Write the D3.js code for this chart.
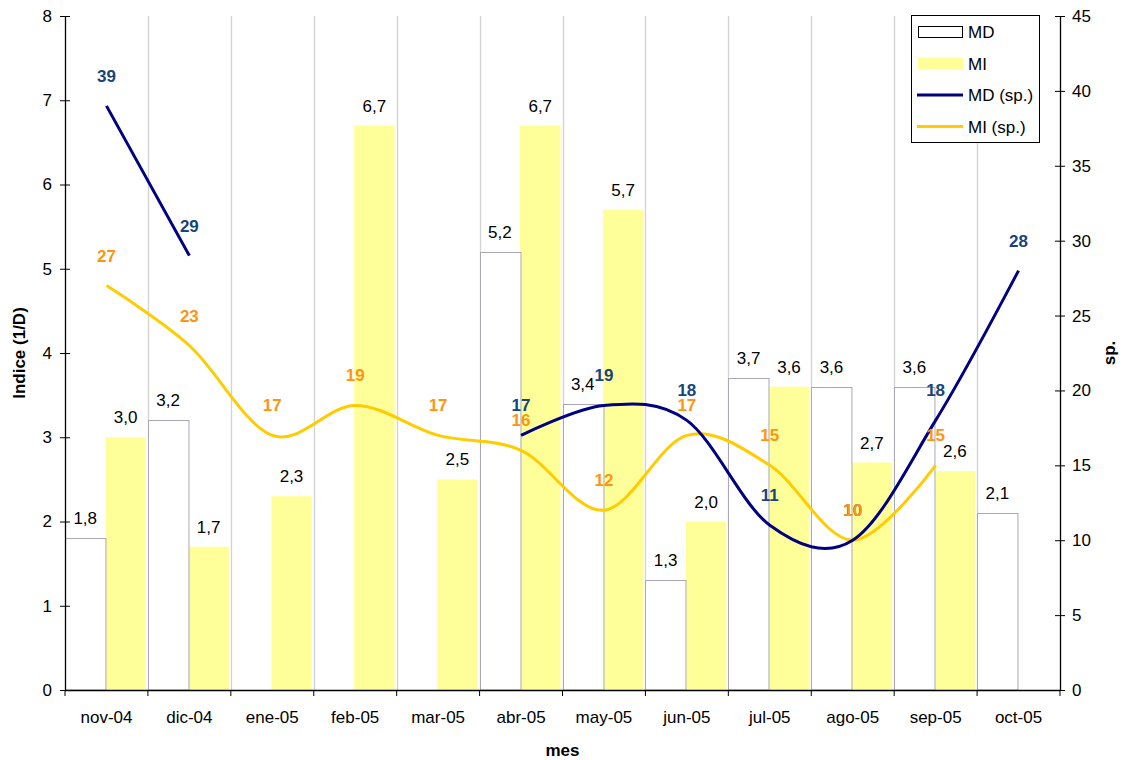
<!DOCTYPE html>
<html>
<head>
<meta charset="utf-8">
<script src="https://cdn.jsdelivr.net/npm/d3@7"></script>
<style>
  html, body { margin: 0; padding: 0; background: #fff; }
  svg { display: block; font-family: "Liberation Sans", Arial, sans-serif; }
</style>
</head>
<body>
<svg id="chart" width="1127" height="760"></svg>
<script>
// Months on the category axis
const months = ["nov-04","dic-04","ene-05","feb-05","mar-05","abr-05","may-05","jun-05","jul-05","ago-05","sep-05","oct-05"];
// Indice (1/D), left axis
const mdIndex = [1.8, 3.2, null, null, null, 5.2, 3.4, 1.3, 3.7, 3.6, 3.6, 2.1];
const miIndex = [3.0, 1.7, 2.3, 6.7, 2.5, 6.7, 5.7, 2.0, 3.6, 2.7, 2.6, null];
// sp., right axis
const mdSp = [39, 29, null, null, null, 17, 19, 18, 11, 10, 18, 28];
const miSp = [27, 23, 17, 19, 17, 16, 12, 17, 15, 10, 15, null];
// Axis ticks
const leftTicks = [0,1,2,3,4,5,6,7,8];
const rightTicks = [0,5,10,15,20,25,30,35,40,45];

const FS = 17;
const svg = d3.select("#chart");
const plot = { left: 65, right: 1060, top: 16, bottom: 690 };

const x = d3.scaleBand().domain(months).range([plot.left, plot.right]);
const bw = x.bandwidth();
const xs = d3.scaleBand().domain(["MD","MI"]).range([0, bw - 2]);
const yL = d3.scaleLinear().domain([0, 8]).range([plot.bottom, plot.top]);
const yR = d3.scaleLinear().domain([0, 45]).range([plot.bottom, plot.top]);

const fmt = v => v.toFixed(1).replace(".", ",");

// Vertical gridlines between months
svg.append("g").selectAll("line")
  .data(months.slice(1))
  .join("line")
  .attr("x1", d => Math.round(x(d)) + 0.5).attr("x2", d => Math.round(x(d)) + 0.5)
  .attr("y1", plot.top).attr("y2", plot.bottom)
  .attr("stroke", "#d2d2d2").attr("stroke-width", 1.3);

// Bars
const barsMD = months.map((m, i) => ({ m, v: mdIndex[i] })).filter(d => d.v != null);
const barsMI = months.map((m, i) => ({ m, v: miIndex[i] })).filter(d => d.v != null);

svg.append("g").selectAll("rect")
  .data(barsMI).join("rect")
  .attr("x", d => x(d.m) + xs("MI"))
  .attr("width", xs.bandwidth())
  .attr("y", d => yL(d.v))
  .attr("height", d => yL(0) - yL(d.v))
  .attr("fill", "#ffff99");

svg.append("g").selectAll("rect")
  .data(barsMD).join("rect")
  .attr("x", d => Math.round(x(d.m) + xs("MD")) + 0.5)
  .attr("width", xs.bandwidth())
  .attr("y", d => Math.round(yL(d.v)) + 0.5)
  .attr("height", d => yL(0) - Math.round(yL(d.v)) - 0.5)
  .attr("fill", "#ffffff")
  .attr("stroke", "#a8a8ba").attr("stroke-width", 1);

// Bar value labels
const barLabels = svg.append("g").attr("font-size", FS).attr("fill", "#000").attr("text-anchor", "middle");
barLabels.selectAll("text.md").data(barsMD).join("text")
  .attr("class", "md")
  .attr("x", d => x(d.m) + xs("MD") + xs.bandwidth() / 2)
  .attr("y", d => yL(d.v) - 14)
  .text(d => fmt(d.v));
barLabels.selectAll("text.mi").data(barsMI).join("text")
  .attr("class", "mi")
  .attr("x", d => x(d.m) + xs("MI") + xs.bandwidth() / 2)
  .attr("y", d => yL(d.v) - 14)
  .text(d => fmt(d.v));

// Smoothed lines on the right axis
const cx = m => x(m) + bw / 2;
const line = d3.line()
  .defined(d => d.v != null)
  .x(d => cx(d.m))
  .y(d => yR(d.v))
  .curve(d3.curveCardinal.tension(0));

const mdPts = months.map((m, i) => ({ m, v: mdSp[i] }));
const miPts = months.map((m, i) => ({ m, v: miSp[i] }));

svg.append("path").datum(miPts)
  .attr("d", line).attr("fill", "none")
  .attr("stroke", "#ffcc00").attr("stroke-width", 3);
svg.append("path").datum(mdPts)
  .attr("d", line).attr("fill", "none")
  .attr("stroke", "#000080").attr("stroke-width", 3);

// Line value labels (MI drawn last so it sits on top where they coincide)
const lineLabels = svg.append("g").attr("font-size", FS).attr("font-weight", "bold").attr("text-anchor", "middle");
lineLabels.selectAll("text.md").data(mdPts.filter(d => d.v != null)).join("text")
  .attr("class", "md")
  .attr("x", d => cx(d.m)).attr("y", d => yR(d.v) - 24)
  .attr("fill", "#17457a")
  .text(d => d.v);
lineLabels.selectAll("text.mi").data(miPts.filter(d => d.v != null)).join("text")
  .attr("class", "mi")
  .attr("x", d => cx(d.m)).attr("y", d => yR(d.v) - 24)
  .attr("fill", "#ff9410")
  .text(d => d.v);

// Left axis
const axL = svg.append("g").attr("transform", `translate(${plot.left},0)`)
  .call(d3.axisLeft(yL).tickValues(leftTicks).tickSize(5).tickPadding(8).tickFormat(d => d));
axL.selectAll(".tick line").attr("x1", 5);
// Right axis
const axR = svg.append("g").attr("transform", `translate(${plot.right},0)`)
  .call(d3.axisRight(yR).tickValues(rightTicks).tickSize(5).tickPadding(7).tickFormat(d => d));
axR.selectAll(".tick line").attr("x1", -5);
// Category axis: ticks at month boundaries, labels centred in each month
const axB = svg.append("g").attr("transform", `translate(0,${plot.bottom})`)
  .call(d3.axisBottom(x).tickSize(0));
axB.selectAll(".tick text").attr("y", 33).attr("dy", 0);
axB.append("g").selectAll("line")
  .data(months.concat(["__end"]))
  .join("line")
  .attr("x1", (d, i) => i < months.length ? x(d) : plot.right)
  .attr("x2", (d, i) => i < months.length ? x(d) : plot.right)
  .attr("y1", 0).attr("y2", 6)
  .attr("stroke", "#000");

[axL, axR, axB].forEach(a => {
  a.selectAll("text").attr("font-size", FS).attr("fill", "#000").attr("font-family", '"Liberation Sans", Arial, sans-serif');
  a.selectAll("path.domain").attr("stroke", "#000").attr("stroke-width", 1.3);
  a.selectAll("line").attr("stroke", "#000");
});
axL.select("path.domain").attr("d", `M0.5,${plot.bottom}V${plot.top}`);
axR.select("path.domain").attr("d", `M0.5,${plot.bottom}V${plot.top}`);
axB.select("path.domain").attr("d", `M${plot.left},0.5H${plot.right}`);

// Axis titles
svg.append("text")
  .attr("transform", `translate(25,${(plot.top + plot.bottom) / 2}) rotate(-90)`)
  .attr("text-anchor", "middle").attr("font-size", FS).attr("font-weight", "bold")
  .text("Indice (1/D)");
svg.append("text")
  .attr("transform", `translate(1115,${(plot.top + plot.bottom) / 2}) rotate(-90)`)
  .attr("text-anchor", "middle").attr("font-size", FS).attr("font-weight", "bold")
  .text("sp.");
svg.append("text")
  .attr("x", (plot.left + plot.right) / 2).attr("y", 756)
  .attr("text-anchor", "middle").attr("font-size", FS).attr("font-weight", "bold")
  .text("mes");

// Legend
const legend = svg.append("g").attr("transform", "translate(911,15)");
legend.append("rect").attr("x", 0.5).attr("y", 0.5).attr("width", 128).attr("height", 127)
  .attr("fill", "#fff").attr("stroke", "#000").attr("stroke-width", 1);
const items = [
  { name: "MD", type: "box", color: "#fff" },
  { name: "MI", type: "fill", color: "#ffff99" },
  { name: "MD (sp.)", type: "line", color: "#000080" },
  { name: "MI (sp.)", type: "line", color: "#ffcc00" }
];
const li = legend.selectAll("g.item").data(items).join("g")
  .attr("class", "item")
  .attr("transform", (d, i) => `translate(0,${17 + i * 31.5})`);
li.filter(d => d.type === "box").append("rect")
  .attr("x", 7.5).attr("y", -5.5).attr("width", 44).attr("height", 11)
  .attr("fill", "#fff").attr("stroke", "#000");
li.filter(d => d.type === "fill").append("rect")
  .attr("x", 7).attr("y", -6).attr("width", 45).attr("height", 12)
  .attr("fill", d => d.color);
li.filter(d => d.type === "line").append("line")
  .attr("x1", 6).attr("x2", 52).attr("y1", 0).attr("y2", 0)
  .attr("stroke", d => d.color).attr("stroke-width", 3);
li.append("text")
  .attr("x", 57).attr("y", 0).attr("dy", "0.36em")
  .attr("font-size", FS).attr("fill", "#000")
  .text(d => d.name);
</script>
</body>
</html>
